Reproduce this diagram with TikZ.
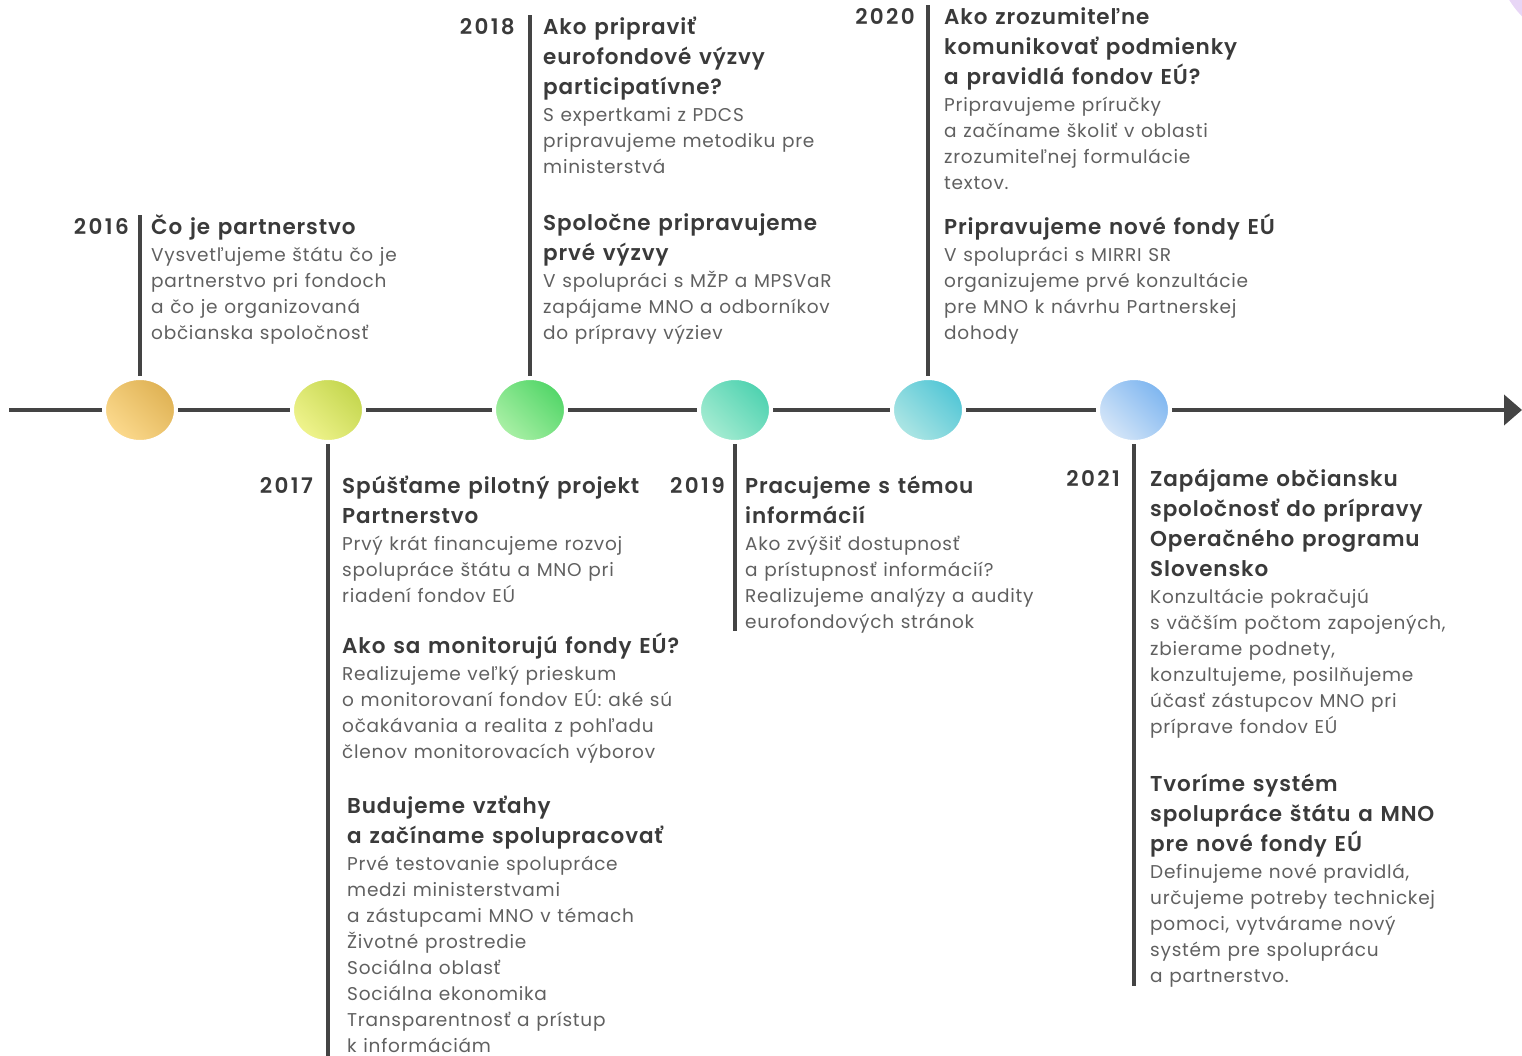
\documentclass[tikz,border=0pt]{standalone}
\usepackage{fontspec}
\IfFontExistsTF{Poppins SemiBold}
  {\setmainfont{Poppins}[LetterSpace=4,BoldFont={Poppins SemiBold}]}
  {\setmainfont{Poppins}[LetterSpace=4]}
\usetikzlibrary{shapes.geometric,arrows.meta}
\definecolor{siva}{RGB}{68,68,68}
\definecolor{nadpissiva}{RGB}{58,58,58}
\definecolor{textsiva}{RGB}{96,96,96}
\definecolor{fialka}{RGB}{232,214,246}
\definecolor{tmava2016}{RGB}{223,178,84}
\definecolor{svetla2016}{RGB}{252,218,142}
\definecolor{tmava2017}{RGB}{196,214,78}
\definecolor{svetla2017}{RGB}{240,244,142}
\definecolor{tmava2018}{RGB}{82,214,104}
\definecolor{svetla2018}{RGB}{170,240,166}
\definecolor{tmava2019}{RGB}{78,210,176}
\definecolor{svetla2019}{RGB}{166,236,210}
\definecolor{tmava2020}{RGB}{82,198,214}
\definecolor{svetla2020}{RGB}{174,230,228}
\definecolor{tmava2021}{RGB}{126,182,240}
\definecolor{svetla2021}{RGB}{214,230,248}
\setlength{\parindent}{0pt}
\newcommand{\nadpisfont}{\fontsize{21.5}{30}\selectfont\bfseries\spaceskip=.36em\color{nadpissiva}}
\newcommand{\telofont}{\fontsize{18.5}{26}\selectfont\spaceskip=.36em\color{textsiva}}
\newcommand{\blok}[2]{{\nadpisfont\strut #1\par}\vspace{1.5pt}{\telofont #2\par}}

\begin{document}
\begin{tikzpicture}[x=1pt,y=-1pt,
  noha/.style={line width=4, siva},
  osa/.style={line width=4, siva, -{Triangle[length=18pt,width=30pt]}},
  bod/.style={ellipse, minimum width=72, minimum height=64, inner sep=0,
    draw=white, line width=4, top color=tmava#1, bottom color=svetla#1, shading angle=-45},
  rok/.style={anchor=north east, inner sep=0, font=\fontsize{21.5}{30}\selectfont\bfseries\addfontfeature{LetterSpace=11}, text=nadpissiva},
  udalost/.style={anchor=north west, inner sep=0, text width=#1, align=left},
  udalost/.default=360]
\useasboundingbox (0,0) rectangle (1522,1056);
\clip (0,0) rectangle (1522,1056);
\fill[fialka] (1590,-50) circle (95);

% stredy bodov na osi
\coordinate (b2016) at (140,410);
\coordinate (b2017) at (328,410);
\coordinate (b2018) at (530,410);
\coordinate (b2019) at (735,410);
\coordinate (b2020) at (928,410);
\coordinate (b2021) at (1134,410);
% konce noh
\coordinate (t2016) at (140,215);
\coordinate (t2017) at (328,1060);
\coordinate (t2018) at (530,15);
\coordinate (t2019) at (735,631);
\coordinate (t2020) at (928,5);
\coordinate (t2021) at (1134,986);
\coordinate (zaciatok) at (9,410);
\coordinate (koniec) at (1522,410);

\draw[osa] (zaciatok) -- (koniec);
\foreach \r in {2016,2017,2018,2019,2020,2021}{
  \draw[noha] (b\r) -- (t\r);
  \node[bod=\r] (k\r) at (b\r) {};
}

% roky
\node[rok] (r2016) at (129,213) {\strut 2016};
\node[rok] (r2017) at (313,472) {\strut 2017};
\node[rok] (r2018) at (515,13) {\strut 2018};
\node[rok] (r2019) at (725,472) {\strut 2019};
\node[rok] (r2020) at (915,3) {\strut 2020};
\node[rok] (r2021) at (1120,465) {\strut 2021};

% 2016
\node[udalost] (u2016) at (151,213) {\blok{Čo je partnerstvo}
  {Vysvetľujeme štátu čo je\\ partnerstvo pri fondoch\\ a čo je organizovaná\\ občianska spoločnosť}};
% 2017
\node[udalost] (u2017a) at (342,472) {\blok{Spúšťame pilotný projekt\\ Partnerstvo}
  {Prvý krát financujeme rozvoj\\ spolupráce štátu a MNO pri\\ riadení fondov EÚ}};
\node[udalost] (u2017b) at (342,632) {\blok{Ako sa monitorujú fondy EÚ?}
  {Realizujeme veľký prieskum\\ o monitorovaní fondov EÚ: aké sú\\ očakávania a realita z pohľadu\\ členov monitorovacích výborov}};
\node[udalost] (u2017c) at (347,792) {\blok{Budujeme vzťahy\\ a začíname spolupracovať}
  {Prvé testovanie spolupráce\\ medzi ministerstvami\\ a zástupcami MNO v témach\\ Životné prostredie\\ Sociálna oblasť\\ Sociálna ekonomika\\ Transparentnosť a prístup\\ k informáciám}};
% 2018
\node[udalost] (u2018a) at (543,13) {\blok{Ako pripraviť\\ eurofondové výzvy\\ participatívne?}
  {S expertkami z PDCS\\ pripravujeme metodiku pre\\ ministerstvá}};
\node[udalost] (u2018b) at (543,209) {\blok{Spoločne pripravujeme\\ prvé výzvy}
  {V spolupráci s MŽP a MPSVaR\\ zapájame MNO a odborníkov\\ do prípravy výziev}};
% 2019
\node[udalost] (u2019) at (745,472) {\blok{Pracujeme s témou\\ informácií}
  {Ako zvýšiť dostupnosť\\ a prístupnosť informácií?\\ Realizujeme analýzy a audity\\ eurofondových stránok}};
% 2020
\node[udalost] (u2020a) at (944,3) {\blok{Ako zrozumiteľne\\ komunikovať podmienky\\ a pravidlá fondov EÚ?}
  {Pripravujeme príručky\\ a začíname školiť v oblasti\\ zrozumiteľnej formulácie\\ textov.}};
\node[udalost] (u2020b) at (944,213) {\blok{Pripravujeme nové fondy EÚ}
  {V spolupráci s MIRRI SR\\ organizujeme prvé konzultácie\\ pre MNO k návrhu Partnerskej\\ dohody}};
% 2021
\node[udalost] (u2021a) at (1150,465) {\blok{Zapájame občiansku\\ spoločnosť do prípravy\\ Operačného programu\\ Slovensko}
  {Konzultácie pokračujú\\ s väčším počtom zapojených,\\ zbierame podnety,\\ konzultujeme, posilňujeme\\ účasť zástupcov MNO pri\\ príprave fondov EÚ}};
\node[udalost] (u2021b) at (1150,770) {\blok{Tvoríme systém\\ spolupráce štátu a MNO\\ pre nové fondy EÚ}
  {Definujeme nové pravidlá,\\ určujeme potreby technickej\\ pomoci, vytvárame nový\\ systém pre spoluprácu\\ a partnerstvo.}};
\end{tikzpicture}
\end{document}
